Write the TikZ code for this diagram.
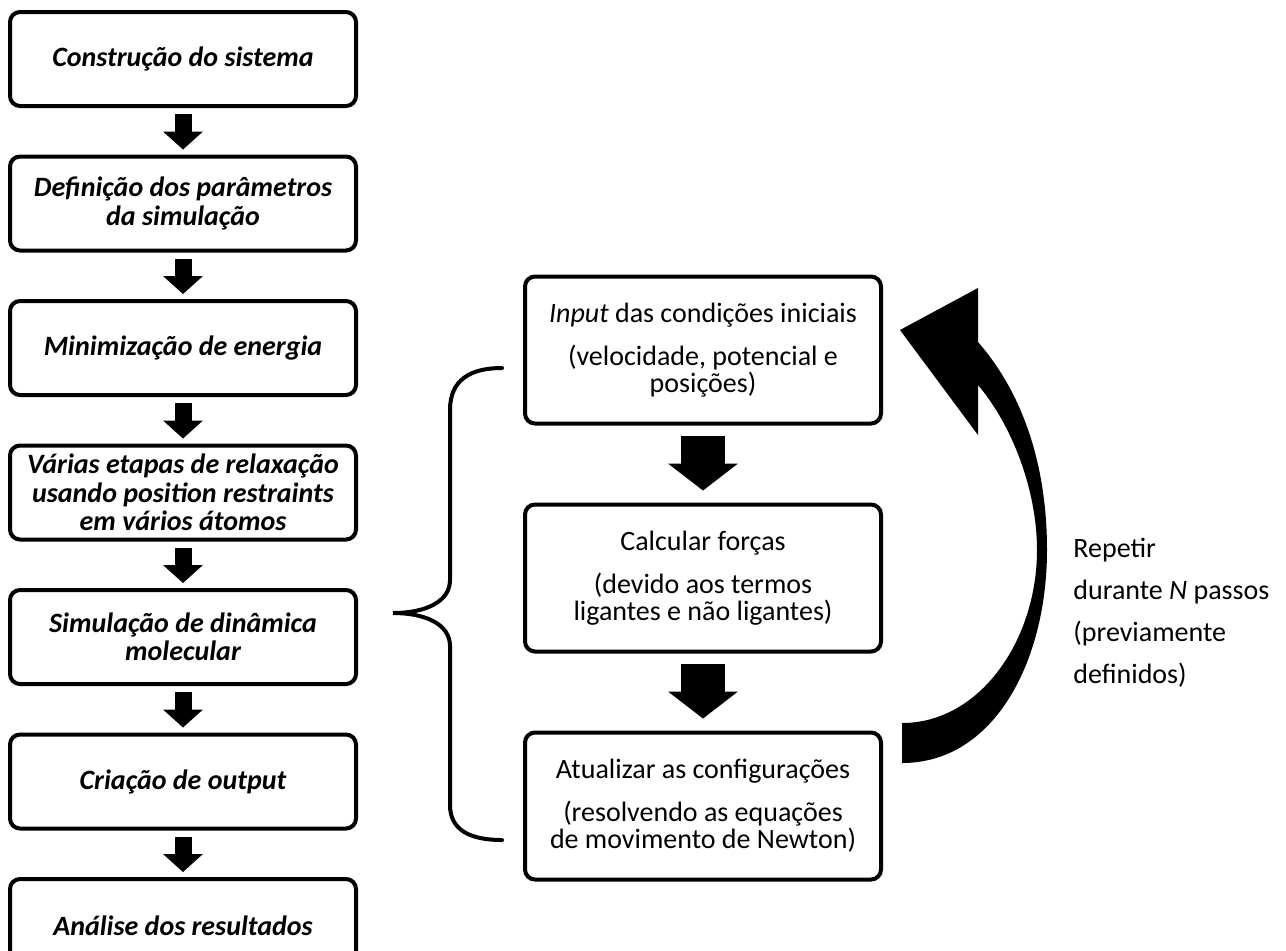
\documentclass[tikz,border=0pt]{standalone}
\usepackage{fontspec}
\setmainfont{Carlito}
\usepackage{tikz}
\usetikzlibrary{arrows.meta,positioning}
\tikzset{
  stepbox/.style={rectangle, rounded corners=5pt, draw=black, line width=2pt, fill=white,
                minimum width=173pt, minimum height=47pt, align=center, inner sep=2pt,
                font=\fontsize{14}{14.25}\selectfont\bfseries\itshape},
  loopbox/.style={stepbox, minimum width=178pt, minimum height=73.5pt,
                font=\fontsize{14}{13.5}\selectfont},
  arrow/.style={-{Triangle[length=9pt, width=20pt, line width=0pt]}, line width=8.5pt,
                shorten <=3pt, shorten >=2.5pt},
  bigarrow/.style={-{Triangle[length=13.5pt, width=35pt, line width=0pt]}, line width=22pt,
                shorten <=5pt, shorten >=6pt},
  brace/.style={line width=2pt, line cap=round},
  note/.style={align=left, inner sep=0pt, font=\fontsize{14}{21}\selectfont},
}
\begin{document}
\begin{tikzpicture}[x=0.5pt, y=-0.5pt, node distance=23.25pt]
\useasboundingbox (0,0) rectangle (1286,950);
% main steps
\node[stepbox] (build) at (183,59) {Construção do sistema};
\node[stepbox, below=of build] (params) {Definição dos parâmetros\\da simulação};
\node[stepbox, below=of params] (minim) {Minimização de energia};
\node[stepbox, below=of minim] (relax) {Várias etapas de relaxação\\usando position restraints\\em vários átomos};
\node[stepbox, below=of relax] (md) {Simulação de dinâmica\\molecular};
\node[stepbox, below=of md] (output) {Criação de output};
\node[stepbox, below=of output] (analysis) {Análise dos resultados};

\draw[arrow] (build) -- (params);
\draw[arrow] (params) -- (minim);
\draw[arrow] (minim) -- (relax);
\draw[arrow] (relax) -- (md);
\draw[arrow] (md) -- (output);
\draw[arrow] (output) -- (analysis);

% MD loop
\node[loopbox] (input) at (703,350) {\textit{Input} das condições iniciais\\[8pt](velocidade, potencial e\\posições)};
\node[loopbox, below=38.5pt of input] (forces) {Calcular forças\\[8pt](devido aos termos\\ligantes e não ligantes)};
\node[loopbox, below=38.5pt of forces] (update) {Atualizar as configurações\\[8pt](resolvendo as equações\\de movimento de Newton)};

\draw[bigarrow] (input) -- (forces);
\draw[bigarrow] (forces) -- (update);

\draw[brace] (502,368) .. controls (470,368) and (450,380) .. (450,410) -- (450,580)
  .. controls (450,602) and (425,613) .. (393,613)
  .. controls (425,613) and (450,624) .. (450,646) -- (450,805)
  .. controls (450,830) and (470,840) .. (502,840);

% loop back arrow
\fill (902,763) .. controls (995,763) and (1047,660) .. (1047,550)
  .. controls (1047,460) and (1020,390) .. (978,342) -- (978,288) -- (900,330) -- (978,435) -- (978,385)
  .. controls (1012,425) and (1037,490) .. (1037,550)
  .. controls (1037,640) and (980,723) .. (902,723) -- cycle;
\node[note, anchor=west] (repeat) at (1073,613) {Repetir\\durante \textit{N} passos\\(previamente\\definidos)};
\end{tikzpicture}
\end{document}
